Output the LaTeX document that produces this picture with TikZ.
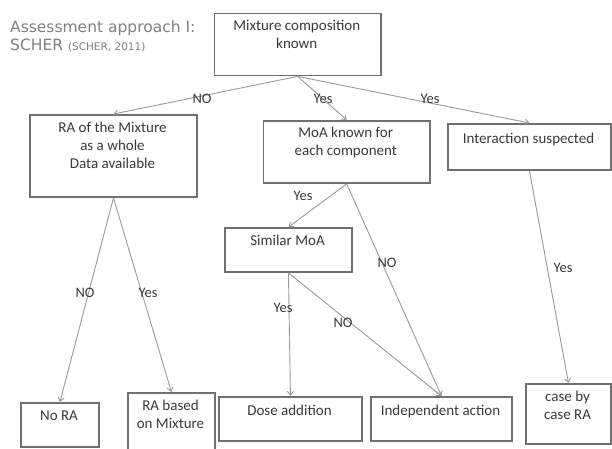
\documentclass[tikz,border=0pt]{standalone}
\usepackage{fontspec}
\setmainfont{Carlito}
\newfontfamily\titlefont{DejaVu Sans}
\usetikzlibrary{arrows.meta}
\definecolor{boxc}{HTML}{707070}
\definecolor{linec}{HTML}{9A9A9A}
\definecolor{txtc}{HTML}{3A3A3A}
\definecolor{titc}{HTML}{808080}
\begin{document}
\begin{tikzpicture}[x=1pt,y=-1pt,
  box/.style={draw=boxc,line width=1.9pt,rectangle,anchor=north west,inner sep=0pt},
  txt/.style={text=txtc,font=\fontsize{15}{18}\selectfont,align=center,anchor=base,inner sep=0pt},
  lbl/.style={text=txtc,font=\fontsize{14.5}{17}\selectfont,inner sep=0pt},
  conn/.style={draw=linec,line width=0.9pt,-{Straight Barb[length=4pt,width=6pt]}}]
\useasboundingbox (0,0) rectangle (612,448);
\fill[white] (0,0) rectangle (612,448);
% title
\node[text=titc,font=\titlefont\fontsize{15.5}{18}\selectfont,anchor=base west,inner sep=0pt] (t1) at (10,32.5) {Assessment approach I:};
\node[text=titc,font=\titlefont\fontsize{15.5}{18}\selectfont,anchor=base west,inner sep=0pt] (t2) at (10,50) {SCHER {\fontsize{10.5}{12}\selectfont(SCHER, 2011)}};
% boxes
\node[box,minimum width=166.5pt,minimum height=62pt] (b1) at (213.5,12.5) {};
\node[box,minimum width=167pt,minimum height=82pt] (ra) at (29,114) {};
\node[box,minimum width=166.5pt,minimum height=62pt] (moa) at (262.5,120) {};
\node[box,minimum width=163pt,minimum height=46pt] (inter) at (447,123) {};
\node[box,minimum width=127pt,minimum height=44pt] (sim) at (224,227) {};
\node[box,minimum width=78pt,minimum height=44pt] (nora) at (20,402) {};
\node[box,minimum width=87pt,minimum height=58pt] (rab) at (127,392) {};
\node[box,minimum width=143pt,minimum height=44pt] (dose) at (218,396) {};
\node[box,minimum width=141pt,minimum height=44pt] (indep) at (370,396) {};
\node[box,minimum width=85pt,minimum height=60pt] (case) at (525,383) {};
% box texts (base = baseline of the last line)
\node[txt] (b1t) at (296.75,48) {Mixture composition\\known};
\node[txt] (rat) at (112.5,168) {RA of the Mixture\\as a whole\\Data available};
\node[txt] (moat) at (345.75,155) {MoA known for\\each component};
\node[txt] (intert) at (528.5,143) {Interaction suspected};
\node[txt] (simt) at (287.5,245) {Similar MoA};
\node[txt] (norat) at (59,420) {No RA};
\node[txt] (rabt) at (170.5,428) {RA based\\on Mixture};
\node[txt] (doset) at (289.5,415) {Dose addition};
\node[txt] (indept) at (440.5,415) {Independent action};
\node[txt] (caset) at (567.5,419) {case by\\case RA};
% connectors
\draw[conn] (b1.south) -- (ra.north);
\draw[conn] (b1.south) -- (moa.north);
\draw[conn] (b1.south) -- (inter.north);
\draw[conn] (ra.south) -- (nora.north);
\draw[conn] (ra.south) -- (rab.north);
\draw[conn] (moa.south) -- (sim.north);
\draw[conn] (moa.south) -- (indep.north);
\draw[conn] (sim.south) -- (dose.north);
\draw[conn] (sim.south) -- (indep.north);
\draw[conn] (inter.south) -- (case.north);
% labels
\node[lbl] (l1) at (202,99) {NO};
\node[lbl] (l2) at (323,99) {Yes};
\node[lbl] (l3) at (430,99) {Yes};
\node[lbl] (l4) at (85,293) {NO};
\node[lbl] (l5) at (148,293) {Yes};
\node[lbl] (l6) at (303,196) {Yes};
\node[lbl] (l7) at (387,263) {NO};
\node[lbl] (l8) at (283,308) {Yes};
\node[lbl] (l9) at (343,323) {NO};
\node[lbl] (l10) at (563,268) {Yes};
\end{tikzpicture}
\end{document}
